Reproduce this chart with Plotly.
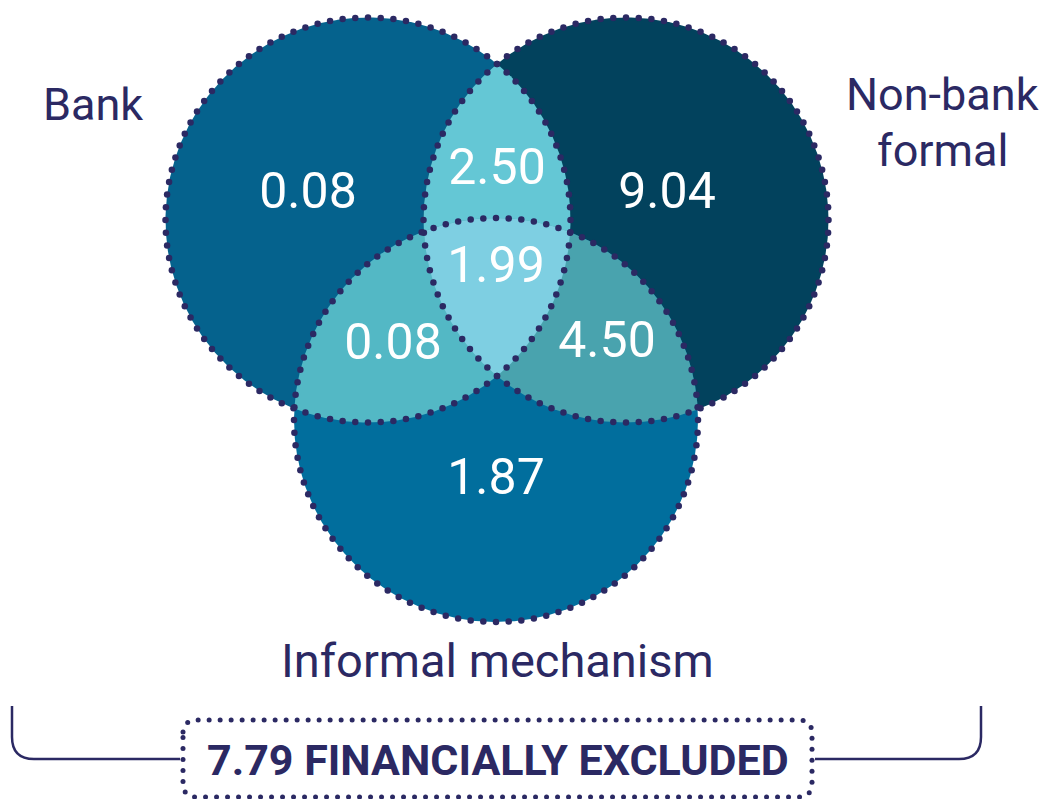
import numpy as np
import plotly.graph_objects as go

# data
set_names = ["Bank", "Non-bank", "Informal mechanism"]
only_values = [0.08, 9.04, 1.87]          # bank only, non-bank only, informal only
pair_names = ["Bank & Non-bank", "Bank & Informal", "Non-bank & Informal"]
pair_values = [2.50, 0.08, 4.50]
triple_value = 1.99
excluded_value = 7.79

# geometry (pixel space of the 1051x799 page)
centers = [(368, 220), (626, 220), (496, 420)]
radii = [202.5, 202.5, 202]
pairs = [(0, 1), (0, 2), (1, 2)]
only_pos = [(308, 195), (667, 195), (496, 481)]
pair_pos = [(497, 171), (393, 346), (607, 344)]
triple_pos = (496, 269)

only_colors = ["#05628D", "#02425D", "#016E9D"]
pair_colors = ["#64C7D5", "#53B8C5", "#49A3AE"]
triple_color = "#7ECFE2"
navy = "#2B2963"
font_fam = "Roboto, Arial, sans-serif"

# page body has an 8px margin, so the plot area starts at (8, 8)
OFF = 8


def circle_pts(i, n=2000):
    t = np.linspace(0, 2 * np.pi, n, endpoint=False)
    cx, cy = centers[i]
    return cx + radii[i] * np.cos(t), cy + radii[i] * np.sin(t)


def region(idx):
    """
    Boundary of the intersection of circles in idx (convex), sorted by angle.
    """
    xs, ys = [], []
    for i in idx:
        x, y = circle_pts(i)
        keep = np.ones_like(x, dtype=bool)
        for j in idx:
            if j == i:
                continue
            cx, cy = centers[j]
            keep &= (x - cx) ** 2 + (y - cy) ** 2 <= radii[j] ** 2 + 1e-6
        xs.append(x[keep])
        ys.append(y[keep])
    x = np.concatenate(xs)
    y = np.concatenate(ys)
    mx, my = x.mean(), y.mean()
    order = np.argsort(np.arctan2(y - my, x - mx))
    x, y = x[order], y[order]
    return np.append(x, x[0]), np.append(y, y[0])


def rounded_rect_dots(x0, y0, x1, y1, r, step):
    """
    Evenly spaced points along a rounded rectangle.
    """
    path = []
    for a in np.linspace(np.pi, 1.5 * np.pi, 30):
        path.append((x0 + r + r * np.cos(a), y0 + r + r * np.sin(a)))
    for a in np.linspace(1.5 * np.pi, 2 * np.pi, 30):
        path.append((x1 - r + r * np.cos(a), y0 + r + r * np.sin(a)))
    for a in np.linspace(0, 0.5 * np.pi, 30):
        path.append((x1 - r + r * np.cos(a), y1 - r + r * np.sin(a)))
    for a in np.linspace(0.5 * np.pi, np.pi, 30):
        path.append((x0 + r + r * np.cos(a), y1 - r + r * np.sin(a)))
    path.append(path[0])
    p = np.array(path)
    seg = np.hypot(np.diff(p[:, 0]), np.diff(p[:, 1]))
    cum = np.concatenate([[0], np.cumsum(seg)])
    s = np.arange(0, cum[-1], step)
    return np.interp(s, cum, p[:, 0]), np.interp(s, cum, p[:, 1])


fig = go.Figure()

# full circles
for i in range(3):
    x, y = circle_pts(i)
    fig.add_trace(go.Scatter(x=np.append(x, x[0]), y=np.append(y, y[0]), fill="toself",
                             fillcolor=only_colors[i], mode="lines", line=dict(width=0),
                             hoverinfo="skip", name=set_names[i]))

# pair lenses
for k, (a, b) in enumerate(pairs):
    x, y = region([a, b])
    fig.add_trace(go.Scatter(x=x, y=y, fill="toself", fillcolor=pair_colors[k],
                             mode="lines", line=dict(width=0), hoverinfo="skip",
                             name=pair_names[k]))

# triple
x, y = region([0, 1, 2])
fig.add_trace(go.Scatter(x=x, y=y, fill="toself", fillcolor=triple_color,
                         mode="lines", line=dict(width=0), hoverinfo="skip", name="All"))

# dotted outlines
for i in range(3):
    n = int(round(2 * np.pi * radii[i] / 12.7))
    t = np.linspace(0, 2 * np.pi, n, endpoint=False)
    cx, cy = centers[i]
    fig.add_trace(go.Scatter(x=cx + radii[i] * np.cos(t), y=cy + radii[i] * np.sin(t),
                             mode="markers", marker=dict(size=6.5, color=navy),
                             hoverinfo="skip"))

# values
tx = [p[0] for p in only_pos] + [p[0] for p in pair_pos] + [triple_pos[0]]
ty = [p[1] for p in only_pos] + [p[1] for p in pair_pos] + [triple_pos[1]]
vals = only_values + pair_values + [triple_value]
fig.add_trace(go.Scatter(x=tx, y=ty, mode="text", text=[f"{v:.2f}" for v in vals],
                         textposition="middle center",
                         textfont=dict(family=font_fam, size=50, color="white"),
                         hoverinfo="skip"))

# box around excluded
bx, by = rounded_rect_dots(183, 720, 812, 797, 12, 11)
fig.add_trace(go.Scatter(x=bx, y=by, mode="markers", marker=dict(size=5, color=navy),
                         hoverinfo="skip"))

label_font = dict(family=font_fam, size=45, color=navy)
fig.add_annotation(x=93, y=104, text="Bank", showarrow=False, font=label_font)
fig.add_annotation(x=942, y=94, text="Non-bank", showarrow=False, font=label_font)
fig.add_annotation(x=942, y=150, text="formal", showarrow=False, font=label_font)
fig.add_annotation(x=497, y=660, text="Informal mechanism", showarrow=False,
                   font=dict(family=font_fam, size=47, color=navy))
fig.add_annotation(x=498, y=760, text=f"<b>{excluded_value:.2f} FINANCIALLY EXCLUDED</b>",
                   showarrow=False, font=dict(family=font_fam, size=43, color=navy))

# bracket
fig.add_shape(type="path", path="M 12,706 L 12,737 Q 12,759 34,759 L 180,759",
              line=dict(color=navy, width=2.5))
fig.add_shape(type="path", path="M 815,759 L 959,759 Q 981,759 981,737 L 981,706",
              line=dict(color=navy, width=2.5))

fig.update_layout(
    width=1051 - OFF, height=799 - OFF,
    margin=dict(l=0, r=0, t=0, b=0),
    showlegend=False,
    plot_bgcolor="white",
    paper_bgcolor="white",
    xaxis=dict(range=[OFF, 1051], visible=False, fixedrange=True),
    yaxis=dict(range=[799, OFF], visible=False, fixedrange=True),
)

fig.write_html("out.html")
